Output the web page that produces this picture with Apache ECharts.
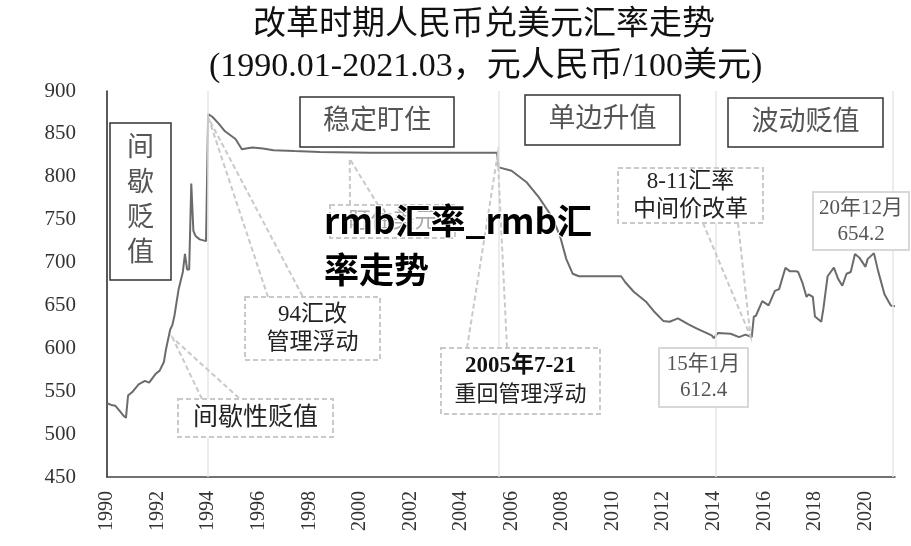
<!DOCTYPE html>
<html><head><meta charset="utf-8">
<script src="https://cdn.jsdelivr.net/npm/echarts/dist/echarts.min.js"></script>
<style>html,body{margin:0;padding:0;background:#fff}#c{width:911px;height:546px}</style>
</head><body><div id="c"></div>
<script>
// ---- data ----
const titleText = '改革时期人民币兑美元汇率走势';
const subtitleText = '(1990.01-2021.03，元人民币/100美元)';
const months = ['1990.01','1990.03','1990.05','1990.07','1990.09','1990.10','1990.11',
 '1991.01','1991.04','1991.07','1991.09','1991.12',
 '1992.02','1992.04','1992.05','1992.07','1992.08','1992.09','1992.11',
 '1993.01','1993.02','1993.03','1993.04','1993.05','1993.06','1993.07','1993.09','1993.12',
 '1994.01','1994.03','1994.06','1994.09',
 '1995.02','1995.05','1995.07','1995.10',
 '1996.03','1996.08','1997.06','1998.06','2000.06','2003.06',
 '2005.06','2005.07','2006.01','2006.08','2007.02','2007.08','2007.12',
 '2008.03','2008.06','2008.09','2009.06','2010.05','2010.07','2010.11',
 '2011.05','2011.09','2012.01','2012.04','2012.08','2013.01','2013.05','2013.12',
 '2014.01','2014.03','2014.09',
 '2015.01','2015.04','2015.07','2015.08','2015.09','2015.12',
 '2016.03','2016.06','2016.08','2016.11',
 '2017.01','2017.04','2017.05','2017.07','2017.09','2017.10','2017.12',
 '2018.01','2018.04','2018.05','2018.07','2018.10','2018.12',
 '2019.02','2019.04','2019.06','2019.08','2019.10',
 '2020.01','2020.02','2020.05','2020.07','2020.10','2020.12',
 '2021.01','2021.03'];
const rates = [536,534,533,527,521,519,545,
 549,558,562,560,570,
 574,584,599,622,627,638,669,
 689,710,692,692,792,737,731,727,725,
 873,870,862,853,
 844,832,833,834,
 833,831,830,829,828,828,
 828,811,807,794,776,754,731,
 704,687,684,684,684,677,666,
 654,642,632,631,635,628,623,615,
 612,618,617,
 613,616,613,637,638,655,
 650,667,669,694,
 690,690,689,677,660,663,660,
 637,631,646,684,694,681,
 673,687,689,710,706,
 695,704,711,690,663,654.2,
 650,649];
const yTicks = {min: 450, max: 900, step: 50};
const xTicks = {first: 1990, last: 2020, step: 2};
const periodLabels = ['间歇贬值', '稳定盯住', '单边升值', '波动贬值'];
const periodDividers = ['1994.01', '2005.07', '2014.02', '2021.02'];
const calloutTexts = ['94汇改\n管理浮动', '间歇性贬值', '盯住美元', '{b|2005年7-21}\n重回管理浮动', '8-11汇率\n中间价改革'];
const valueNotes = ['20年12月\n654.2', '15年1月\n612.4'];
const watermark = 'rmb汇率_rmb汇\n率走势';

// ---- helpers ----
const toX = m => { const [y, mo] = m.split('.').map(Number); return y + (mo - 1) / 12; };
const seriesData = months.map((m, i) => [toX(m), rates[i]]);
const xMax = toX('2021.03');

const serif = "'Liberation Serif', 'Noto Sans CJK SC', serif";
const chart = echarts.init(document.getElementById('c'), null, {renderer: 'canvas'});

const option = {
  backgroundColor: '#fff',
  animation: false,
  title: [
    {text: titleText, left: 248, top: 4,
     textStyle: {fontFamily: serif, fontSize: 33, fontWeight: 'normal', color: '#111'}},
    {text: subtitleText, left: 204, top: 45,
     textStyle: {fontFamily: serif, fontSize: 34, fontWeight: 'normal', color: '#111'}}
  ],
  grid: {left: 107, right: 16, top: 91, bottom: 69},
  xAxis: {
    type: 'value', min: xTicks.first, max: xMax, interval: xTicks.step,
    axisLine: {show: true, lineStyle: {color: '#444', width: 1.5}},
    axisTick: {show: false}, splitLine: {show: false},
    axisLabel: {rotate: 90, margin: 14, color: '#333', fontFamily: serif, fontSize: 20,
      showMaxLabel: false,
      formatter: v => (v >= xTicks.first && v <= xTicks.last && Math.abs(v % 2) < 1e-6) ? String(v) : ''}
  },
  yAxis: {
    type: 'value', min: yTicks.min, max: yTicks.max, interval: yTicks.step,
    axisLine: {show: true, lineStyle: {color: '#222', width: 1.5}},
    axisTick: {show: false}, splitLine: {show: false},
    axisLabel: {margin: 31, color: '#333', fontFamily: serif, fontSize: 21}
  },
  series: [{
    type: 'line', data: seriesData, symbol: 'none', smooth: false,
    lineStyle: {color: '#6b6b6b', width: 2},
    z: 3,
    markLine: {
      silent: true, symbol: 'none', label: {show: false},
      lineStyle: {color: '#e6e6e6', width: 1.5, type: 'solid'},
      data: periodDividers.map(m => ({xAxis: toX(m)}))
    }
  }]
};
chart.setOption(option);

// ---- annotations (graphic) ----
const P = (x, y) => chart.convertToPixel({gridIndex: 0}, [x, y]);
const g = [];
const dash = {stroke: '#c9c9c9', lineWidth: 2, lineDash: [5, 3], fill: null};

function periodBox(x, y, w, h, txt, vertical) {
  g.push({type: 'rect', shape: {x, y, width: w, height: h}, style: {fill: '#fff', stroke: '#333', lineWidth: 1.5}, z: 10});
  g.push({type: 'text', x: x + w / 2, y: y + h / 2, z: 11,
    style: {text: vertical ? txt.split('').join('\n') : txt, fill: '#555', fontFamily: serif,
      fontSize: 27, lineHeight: 35, align: 'center', verticalAlign: 'middle'}});
}
periodBox(110, 123, 61, 157, periodLabels[0], true);
periodBox(300, 97, 154, 50, periodLabels[1]);
periodBox(525, 95, 155, 50, periodLabels[2]);
periodBox(728, 98, 155, 49, periodLabels[3]);

function callout(tip, base, box, txt, opt) {
  const t = P(tip[0], tip[1]);
  g.push({type: 'polyline', shape: {points: [[base[0], base[2]], t, [base[1], base[2]]]}, style: Object.assign({}, dash), z: 8});
  g.push({type: 'rect', shape: {x: box[0], y: box[1], width: box[2], height: box[3]}, style: Object.assign({}, dash, {fill: '#fff'}), z: 9});
  g.push({type: 'text', x: box[0] + box[2] / 2, y: box[1] + box[3] / 2, z: 11,
    style: Object.assign({text: txt, fill: '#222', fontFamily: serif, fontSize: 23, lineHeight: 28,
      align: 'center', verticalAlign: 'middle'}, opt || {})});
}
callout([1994.02, 868], [268, 303, 297], [245, 297, 135, 63], calloutTexts[0]);
callout([1992.6, 612], [202, 240, 399], [178, 399, 155, 38], calloutTexts[1], {fontSize: 25});
callout([1999.6, 821], [350, 378, 205], [330, 205, 125, 33], calloutTexts[2], {fill: '#aaa', fontSize: 22});
callout([2005.45, 826], [467, 507, 348], [441, 348, 159, 66], calloutTexts[3],
  {fontSize: 22, lineHeight: 29,
   rich: {b: {fontFamily: serif, fontSize: 23, fontWeight: 'bold', fill: '#111', lineHeight: 29}}});
callout([2015.45, 614], [703, 738, 223], [618, 168, 145, 55], calloutTexts[4], {fontSize: 23});

function noteBox(box, txt) {
  g.push({type: 'rect', shape: {x: box[0], y: box[1], width: box[2], height: box[3]}, style: {fill: '#fff', stroke: '#d8d8d8', lineWidth: 2}, z: 9});
  g.push({type: 'text', x: box[0] + box[2] / 2, y: box[1] + box[3] / 2, z: 11,
    style: {text: txt, fill: '#555', fontFamily: serif, fontSize: 21, lineHeight: 26, align: 'center', verticalAlign: 'middle'}});
}
noteBox([813, 192, 96, 58], valueNotes[0]);
noteBox([659, 348, 89, 59], valueNotes[1]);

g.push({type: 'text', x: 324, y: 196, z: 50,
  style: {text: watermark, fill: '#000', stroke: '#fff', lineWidth: 2,
    fontFamily: "'Noto Sans CJK SC', sans-serif", fontWeight: 'bold', fontSize: 35, lineHeight: 49,
    align: 'left', verticalAlign: 'top'}});

chart.setOption({graphic: {elements: g}});
</script>
</body></html>
